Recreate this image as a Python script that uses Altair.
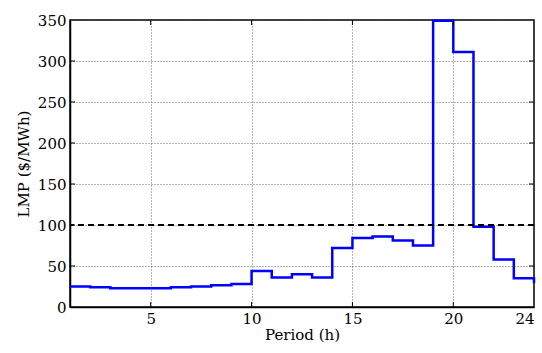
import altair as alt
import pandas as pd

hours = list(range(1, 25))
lmp = [25, 24, 23, 23, 23, 24, 25, 26.5, 28, 44, 36, 40, 36, 72, 84, 86, 81, 75, 349, 311, 98, 58, 35, 29]
x_ticks = [5, 10, 15, 20, 24]
y_ticks = [0, 50, 100, 150, 200, 250, 300, 350]
limit = [100]

W, H = 464, 287
FONT = "DejaVu Serif"
ax_style = dict(labelFont=FONT, titleFont=FONT, labelFontSize=15, titleFontSize=15,
                titleFontWeight="normal", labelColor="black", titleColor="black",
                domainColor="black", domainWidth=1.5, ticks=False,
                grid=True, gridColor="#444444", gridDash=[1, 2], gridWidth=0.8)
xaxis = alt.Axis(values=x_ticks, title="Period (h)", labelPadding=4, titlePadding=1, format="d", **ax_style)
yaxis = alt.Axis(values=y_ticks, title="LMP ($/MWh)", labelPadding=4, titlePadding=6, **ax_style)

df = pd.DataFrame({"hour": hours, "lmp": lmp})
xs = alt.Scale(domain=[1, 24], nice=False, zero=False)
ys = alt.Scale(domain=[0, 350], nice=False)
X = lambda: alt.X("hour:Q", scale=xs, axis=xaxis)
Y = lambda: alt.Y("lmp:Q", scale=ys, axis=yaxis)

line = alt.Chart(df).mark_line(interpolate="step-after", color="#0000ff", strokeWidth=2.5).encode(x=X(), y=Y())

rule = alt.Chart(pd.DataFrame({"lmp": limit})).mark_rule(
    color="black", strokeWidth=2, strokeDash=[6, 4]).encode(y=Y())

xt = pd.DataFrame({"hour": x_ticks[:-1]})
yt = pd.DataFrame({"lmp": y_ticks[1:-1]})
tick_style = dict(color="black", strokeWidth=1)
xb = alt.Chart(xt).mark_rule(**tick_style).encode(x=X(), y=alt.value(H), y2=alt.value(H - 5))
xtop = alt.Chart(xt).mark_rule(**tick_style).encode(x=X(), y=alt.value(0), y2=alt.value(5))
yl = alt.Chart(yt).mark_rule(**tick_style).encode(y=Y(), x=alt.value(0), x2=alt.value(5))
yr = alt.Chart(yt).mark_rule(**tick_style).encode(y=Y(), x=alt.value(W), x2=alt.value(W - 5))

chart = alt.layer(line, rule, xb, xtop, yl, yr).properties(
    width=W, height=H,
    autosize=alt.AutoSizeParams(type="none"),
    padding={"left": 70, "top": 20, "right": 8, "bottom": 46},
    background="white",
).configure_view(stroke="black", strokeWidth=1.5)

chart.save("out.html", embed_options={"renderer": "svg", "actions": False})
